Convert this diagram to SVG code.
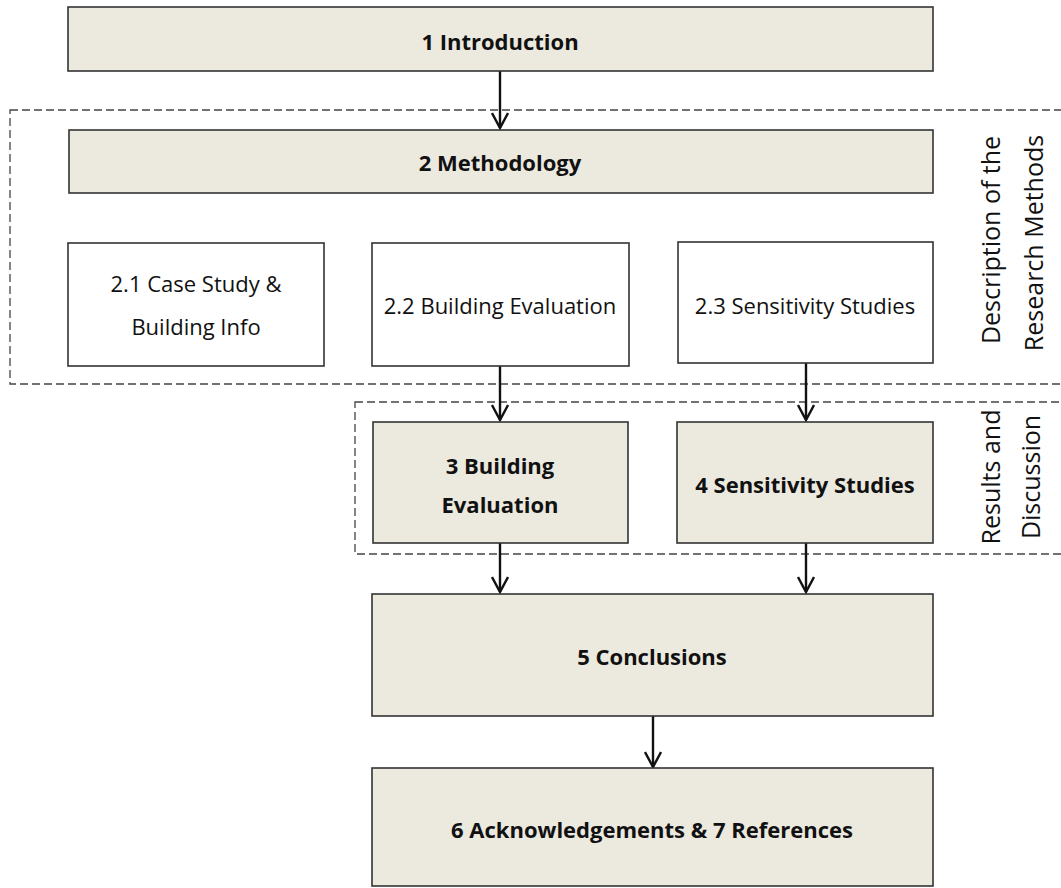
<svg xmlns="http://www.w3.org/2000/svg" width="1061" height="888" viewBox="0 0 1061 888">
<defs>
<style>
.box{fill:#ECE9DF;stroke:#333;stroke-width:1.6}
.wbox{fill:#fff;stroke:#333;stroke-width:1.6}
.grp{fill:none;stroke:#444;stroke-width:1.3;stroke-dasharray:8 4}
.t{font-family:"Open Sans","Liberation Sans",sans-serif;font-size:22px;fill:#111;text-anchor:middle}
.b{font-weight:bold}
.side{font-family:"Open Sans","Liberation Sans",sans-serif;font-size:25px;fill:#111;text-anchor:middle}
.conn{stroke:#111;stroke-width:2.4;fill:none}
</style>
<marker id="arr" viewBox="0 0 18 18" refX="16" refY="9" markerWidth="18" markerHeight="18" markerUnits="userSpaceOnUse" orient="auto">
<path d="M1,1 L16,9 L1,17" fill="none" stroke="#111" stroke-width="2.4"/>
</marker>
</defs>
<rect width="1061" height="888" fill="#fff"/>
<g id="group-methods">
<rect class="grp" x="10" y="110" width="1060" height="274"/>
<text class="side" transform="translate(1000,240) rotate(-90)">Description of the</text>
<text class="side" transform="translate(1043,243) rotate(-90)">Research Methods</text>
</g>
<g id="group-results">
<rect class="grp" x="355" y="402" width="715" height="152"/>
<text class="side" transform="translate(1000,477) rotate(-90)">Results and</text>
<text class="side" transform="translate(1040,477) rotate(-90)">Discussion</text>
</g>
<g id="connectors">
<line class="conn" x1="500" y1="71" x2="500" y2="128" marker-end="url(#arr)"/>
<line class="conn" x1="500" y1="366" x2="500" y2="420" marker-end="url(#arr)"/>
<line class="conn" x1="806" y1="363" x2="806" y2="420" marker-end="url(#arr)"/>
<line class="conn" x1="500" y1="543" x2="500" y2="592" marker-end="url(#arr)"/>
<line class="conn" x1="806" y1="543" x2="806" y2="592" marker-end="url(#arr)"/>
<line class="conn" x1="653" y1="716" x2="653" y2="767" marker-end="url(#arr)"/>
</g>
<g id="n1"><rect class="box" x="68" y="7" width="865" height="64"/><text class="t b" x="500" y="50">1 Introduction</text></g>
<g id="n2"><rect class="box" x="69" y="130" width="864" height="63"/><text class="t b" x="500" y="171">2 Methodology</text></g>
<g id="n21"><rect class="wbox" x="68" y="243" width="256" height="123"/><text class="t" x="196" y="292">2.1 Case Study &amp;</text><text class="t" x="196" y="335">Building Info</text></g>
<g id="n22"><rect class="wbox" x="372" y="243" width="257" height="123"/><text class="t" x="500" y="314">2.2 Building Evaluation</text></g>
<g id="n23"><rect class="wbox" x="678" y="242" width="255" height="121"/><text class="t" x="805" y="314">2.3 Sensitivity Studies</text></g>
<g id="n3"><rect class="box" x="373" y="422" width="255" height="121"/><text class="t b" x="500" y="474">3 Building</text><text class="t b" x="500" y="513">Evaluation</text></g>
<g id="n4"><rect class="box" x="677" y="422" width="256" height="121"/><text class="t b" x="805" y="493">4 Sensitivity Studies</text></g>
<g id="n5"><rect class="box" x="372" y="594" width="561" height="122"/><text class="t b" x="652" y="665">5 Conclusions</text></g>
<g id="n6"><rect class="box" x="372" y="768" width="561" height="118"/><text class="t b" x="652" y="838">6 Acknowledgements &amp; 7 References</text></g>
</svg>
